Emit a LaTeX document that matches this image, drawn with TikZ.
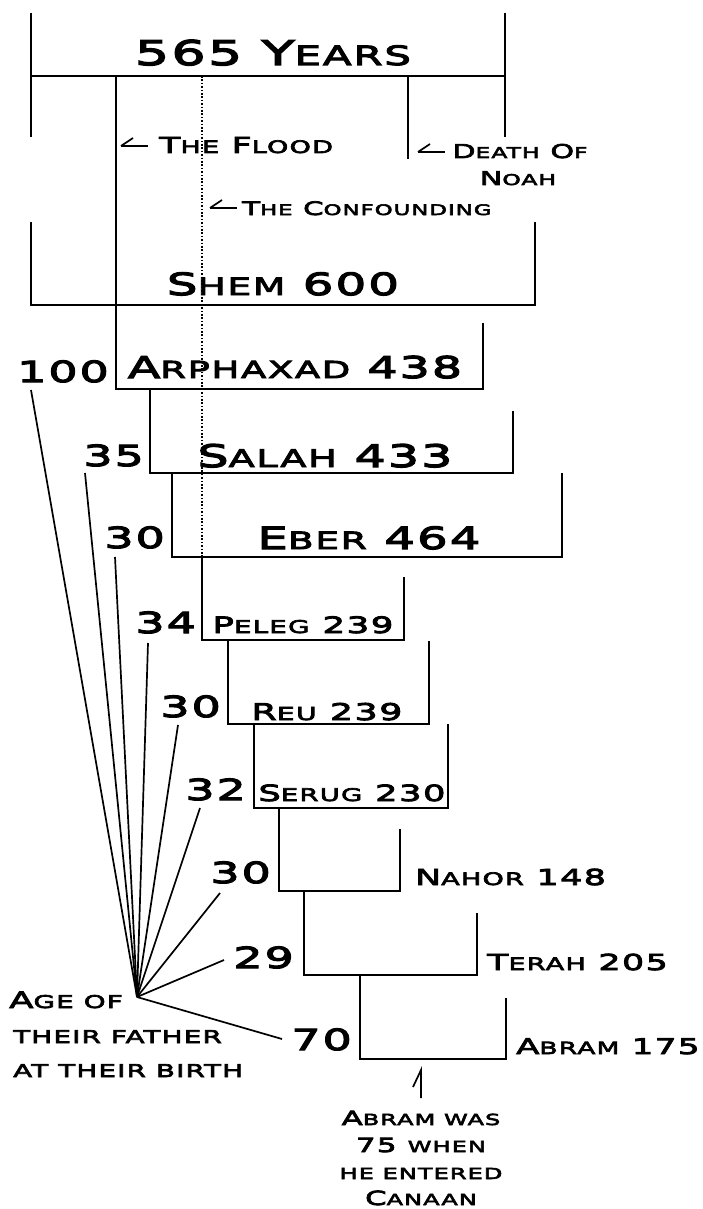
\documentclass[tikz,border=0pt]{standalone}
\usepackage{fontspec}
\newfontfamily\wf{DejaVu Sans}[FakeStretch=1.58,LetterSpace=7,FakeBold=4]
\newfontfamily\smf{DejaVu Sans}[FakeStretch=1.58,LetterSpace=7,FakeBold=4,Scale=0.78]
\newcommand\sml[1]{{\smf #1}}
\newcommand\fs[1]{\fontsize{#1}{#1}\selectfont}
\tikzset{
  ln/.style={line width=1.8pt},
  fan/.style={line width=1.7pt},
  dotline/.style={line width=1.8pt, dash pattern=on 1.6pt off 1.8pt},
  lbl/.style={inner sep=0pt, font=\wf},
  agelbl/.style={lbl, anchor=base east, font=\wf\fs{29}},
  namelbl/.style={lbl, anchor=base},
  harp/.pic={\draw[line width=1.7pt] (0,0) -- (27,0); \draw[line width=1.7pt] (0,0) -- (12,-8);}
}
\begin{document}
\begin{tikzpicture}[x=1pt,y=-1pt]
\fill[white] (0,0) rectangle (702,1209);
\useasboundingbox (0,0) rectangle (702,1209);

% top bracket: 565 years
\draw[ln] (31,13) -- (31,137);
\draw[ln] (505,13) -- (505,137);
\draw[ln] (31,76) -- (505,76);
\node[namelbl, font=\wf\fs{34}] (years) at (273,65) {565 Y\sml{EARS}};

% death of Noah marker
\draw[ln] (408,76) -- (408,159);
\pic at (418,152) {harp};
\node[namelbl, font=\wf\fs{19}] (deathA) at (520,158) {D\sml{EATH} O\sml{F}};
\node[namelbl, font=\wf\fs{19}] (deathB) at (518,185) {N\sml{OAH}};

% the flood
\pic at (121,146) {harp};
\node[lbl, anchor=base west, font=\wf\fs{22}] (flood) at (159,153) {T\sml{HE} F\sml{LOOD}};

% the confounding (dotted)
\draw[dotline] (202,76) -- (202,557);
\pic at (210,208) {harp};
\node[lbl, anchor=base west, font=\wf\fs{18.5}] (conf) at (242,215) {T\sml{HE} C\sml{ONFOUNDING}};

% Shem
\draw[ln] (31,222) -- (31,305) -- (535,305) -- (535,222);
\node[namelbl, font=\wf\fs{30.5}] (shem) at (283,295) {S\sml{HEM} 600};

% Arphaxad
\draw[ln] (116,76) -- (116,389) -- (483,389) -- (483,323);
\node[namelbl, font=\wf\fs{30}] (arph) at (295,378) {A\sml{RPHAXAD} 438};
% Salah
\draw[ln] (150,389) -- (150,473) -- (513,473) -- (513,411);
\node[namelbl, font=\wf\fs{31}] (salah) at (325,467) {S\sml{ALAH} 433};
% Eber
\draw[ln] (172,473) -- (172,557) -- (562,557) -- (562,473);
\node[namelbl, font=\wf\fs{30.5}] (eber) at (369,549) {E\sml{BER} 464};
% Peleg
\draw[ln] (202,557) -- (202,640) -- (404,640) -- (404,577);
\node[namelbl, font=\wf\fs{22.5}] (peleg) at (303,633) {P\sml{ELEG} 239};
% Reu
\draw[ln] (228,640) -- (228,724) -- (429,724) -- (429,641);
\node[namelbl, font=\wf\fs{23}] (reu) at (327,720) {R\sml{EU} 239};
% Serug
\draw[ln] (254,724) -- (254,808) -- (448,808) -- (448,724);
\node[namelbl, font=\wf\fs{22.3}] (serug) at (352,801) {S\sml{ERUG} 230};
% Nahor
\draw[ln] (279,808) -- (279,891) -- (400,891) -- (400,829);
\node[lbl, anchor=base west, font=\wf\fs{22}] (nahor) at (415,885) {N\sml{AHOR} 148};
% Terah
\draw[ln] (304,891) -- (304,975) -- (477,975) -- (477,913);
\node[lbl, anchor=base west, font=\wf\fs{22}] (terah) at (487,970) {T\sml{ERAH} 205};
% Abram
\draw[ln] (360,975) -- (360,1059) -- (506,1059) -- (506,998);
\node[lbl, anchor=base west, font=\wf\fs{21.5}] (abram) at (516,1054) {A\sml{BRAM} 175};

% ages of fathers
\node[agelbl] (a100) at (109,382) {100};
\node[agelbl] (a35) at (144,466) {35};
\node[agelbl] (a30e) at (165,548) {30};
\node[agelbl] (a34) at (196,633) {34};
\node[agelbl] (a30r) at (221,717) {30};
\node[agelbl] (a32) at (246,800) {32};
\node[agelbl] (a30n) at (271,883) {30};
\node[agelbl] (a29) at (294,968) {29};
\node[agelbl] (a70) at (352,1050) {70};

\coordinate (hub) at (137,997);
\coordinate (f100) at (31,390);
\coordinate (f35) at (85,473);
\coordinate (f30e) at (115,557);
\coordinate (f34) at (148,643);
\coordinate (f30r) at (178,725);
\coordinate (f32) at (200,808);
\coordinate (f30n) at (220,893);
\coordinate (f29) at (224,960);
\coordinate (f70) at (282,1039);
\foreach \e in {f100,f35,f30e,f34,f30r,f32,f30n,f29,f70}
  \draw[fan] (hub) -- (\e);

\node[lbl, anchor=base west, font=\wf\fs{22.5}] (ageA) at (9,1008) {A\sml{GE OF}};
\node[lbl, anchor=base west, font=\wf\fs{22.5}] (ageB) at (13,1043) {\sml{THEIR FATHER}};
\node[lbl, anchor=base west, font=\wf\fs{22.5}] (ageC) at (13,1077) {\sml{AT THEIR BIRTH}};

% Abram note
\coordinate (ptop) at (421,1070);
\coordinate (pbot) at (421,1098);
\coordinate (pbarb) at (413,1087);
\draw[line width=1.7pt] (pbot) -- (ptop) -- (pbarb);
\node[namelbl, font=\wf\fs{19.5}] (noteA) at (421,1125) {A\sml{BRAM WAS}};
\node[namelbl, font=\wf\fs{19.5}] (noteB) at (421,1152) {75 \sml{WHEN}};
\node[namelbl, font=\wf\fs{19.5}] (noteC) at (421,1179) {\sml{HE ENTERED}};
\node[namelbl, font=\wf\fs{19.5}] (noteD) at (421,1205) {C\sml{ANAAN}};
\end{tikzpicture}
\end{document}
